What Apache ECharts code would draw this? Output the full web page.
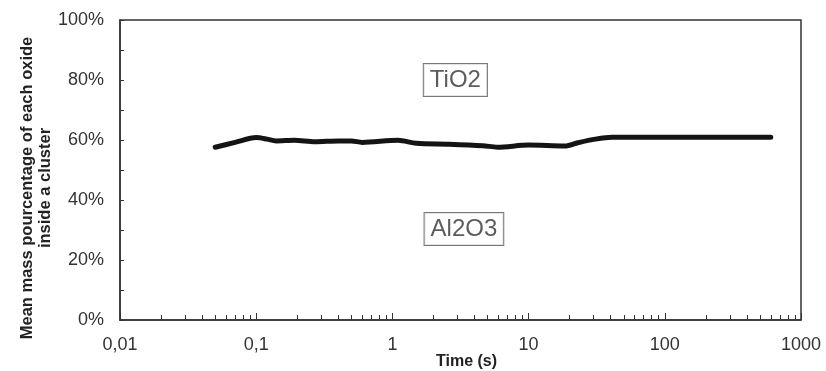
<!DOCTYPE html>
<html>
<head>
<meta charset="utf-8">
<script src="https://cdn.jsdelivr.net/npm/echarts@6/dist/echarts.min.js"></script>
<style>
html,body{margin:0;padding:0;background:#fff;}
#chart{width:826px;height:371px;}
</style>
</head>
<body>
<div id="chart"></div>
<script>
// Data (time in seconds, mean mass percentage of TiO2)
var timeValues = [0.05,0.07,0.1,0.12,0.14,0.19,0.27,0.4,0.5,0.6,1.1,1.5,2.6,4.6,5.9,10,18.5,23,31,41,72,600];
var tioPercent = [57.6,59.2,60.8,60.3,59.7,59.9,59.4,59.7,59.7,59.2,59.9,58.9,58.6,58.1,57.6,58.3,58.0,59.1,60.3,60.9,60.9,60.9];
var xTickLabels = ['0,01','0,1','1','10','100','1000'];
var xMinorTicks = [];
for (var k = -2; k <= 2; k++) { for (var m = 2; m <= 9; m++) { xMinorTicks.push(+(m * Math.pow(10, k)).toPrecision(3)); } }
var annotationNames = ['TiO2', 'Al2O3'];
var annotationTimes = [2.9, 3.35];
var annotationPercents = [80, 30.3];

var lineData = timeValues.map(function (t, i) { return [t, tioPercent[i]]; });
var annData = annotationNames.map(function (n, i) { return { name: n, value: [annotationTimes[i], annotationPercents[i]] }; });

var chart = echarts.init(document.getElementById('chart'));
var axisColor = '#333';
chart.setOption({
  animation: false,
  backgroundColor: '#fff',
  grid: { left: 120, right: 25, top: 20, bottom: 51, show: true, borderColor: axisColor, borderWidth: 1.5,
    backgroundColor: 'transparent', containLabel: false, outerBoundsMode: 'none' },
  xAxis: [{
    type: 'log', logBase: 10, min: 0.01, max: 1000,
    name: 'Time (s)', nameLocation: 'middle', nameGap: 34, nameMoveOverlap: false,
    nameTextStyle: { fontFamily: 'Liberation Sans', fontWeight: 'bold', fontSize: 16, color: '#222', padding: [0, 0, 0, 12] },
    axisLine: { show: true, onZero: false, lineStyle: { color: axisColor, width: 1.5 } },
    axisTick: { show: true, inside: true, length: 7, lineStyle: { color: axisColor, width: 1 } },
    axisLabel: { fontFamily: 'Liberation Sans', fontSize: 18, color: '#333', margin: 16,
      formatter: function (v, i) { return xTickLabels[i]; } },
    splitLine: { show: false }, minorTick: { show: false }
  }, {
    type: 'log', logBase: 10, min: 0.01, max: 1000, position: 'bottom',
    axisLine: { show: false },
    axisTick: { show: true, inside: true, length: 5, customValues: xMinorTicks, lineStyle: { color: axisColor, width: 1 } },
    axisLabel: { show: false }, splitLine: { show: false }
  }],
  yAxis: {
    type: 'value', min: 0, max: 100, interval: 20,
    name: 'Mean mass pourcentage of each oxide\ninside a cluster',
    nameLocation: 'middle', nameRotate: 90, nameGap: 66, nameMoveOverlap: false,
    nameTextStyle: { fontFamily: 'Liberation Sans', fontWeight: 'bold', fontSize: 16.5, color: '#222', lineHeight: 18, padding: [0, 36, 0, 0] },
    axisLine: { show: true, lineStyle: { color: axisColor, width: 1.5 } },
    axisTick: { show: true, inside: true, length: 4, lineStyle: { color: axisColor, width: 1 } },
    minorTick: { show: true, splitNumber: 2, length: 4, lineStyle: { color: axisColor, width: 1 } },
    axisLabel: { fontFamily: 'Liberation Sans', fontSize: 18, color: '#333', margin: 16, formatter: '{value}%' },
    splitLine: { show: false }
  },
  series: [{
    type: 'line', data: lineData, smooth: 0.3, showSymbol: false, symbol: 'none',
    lineStyle: { color: '#141414', width: 5, cap: 'round', join: 'round' }
  }, {
    type: 'scatter', data: annData, symbolSize: 0, itemStyle: { color: 'rgba(0,0,0,0)' },
    label: { show: true, position: 'inside', formatter: '{b}', fontFamily: 'Liberation Sans', fontSize: 24,
      color: '#333', borderColor: '#555', borderWidth: 1, padding: [5, 6, 3, 6], backgroundColor: '#fff' }
  }]
});
</script>
</body>
</html>
